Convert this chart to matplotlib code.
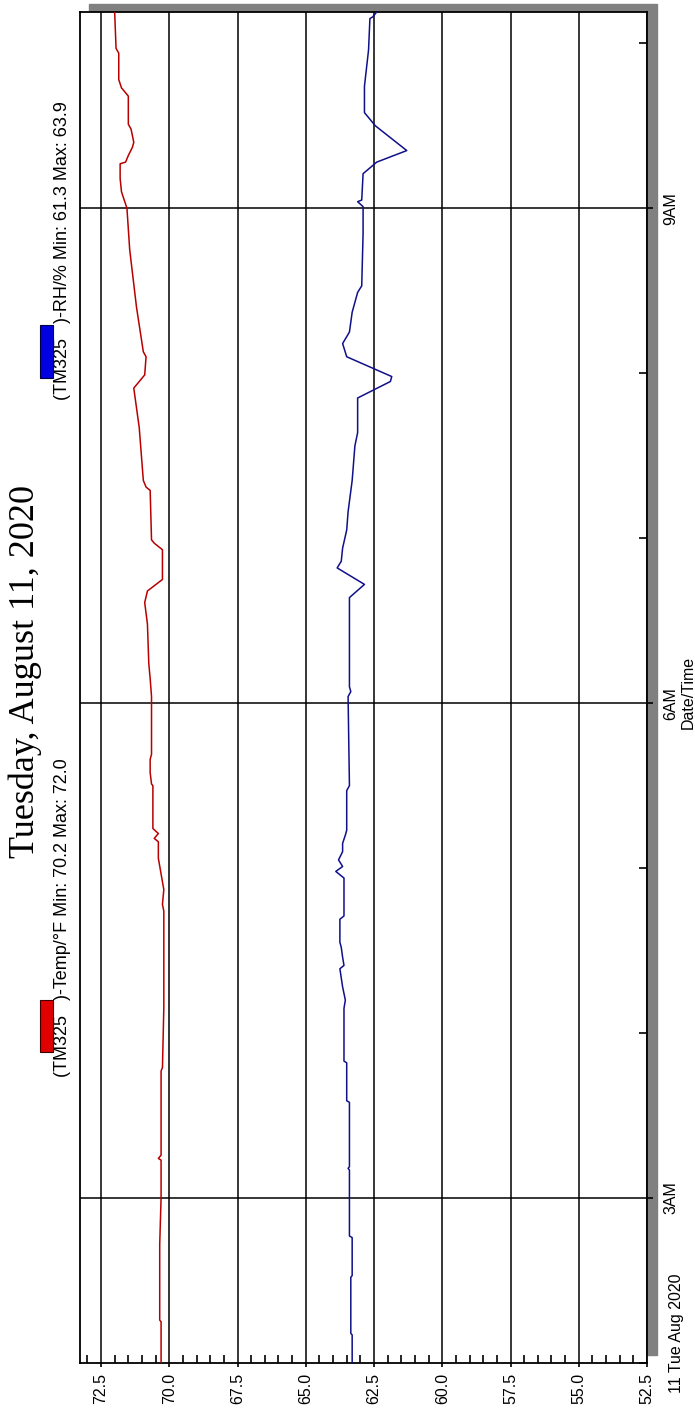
import matplotlib
matplotlib.use("Agg")
import matplotlib.pyplot as plt
from matplotlib.patches import Rectangle
import numpy as np

plt.rcParams['font.family'] = ['Liberation Sans', 'DejaVu Sans']

# time in hours after midnight, Tue 11 Aug 2020
temp_t = [2.00, 2.25, 2.26, 2.36, 2.55, 2.72, 3.00, 3.23, 3.24, 3.26, 3.77, 3.79,
          4.15, 4.41, 4.74, 4.78, 4.87, 5.06, 5.16, 5.18, 5.21, 5.24, 5.50, 5.51,
          5.58, 5.66, 5.69, 6.04, 6.15, 6.24, 6.48, 6.61, 6.68, 6.75, 6.93, 6.97,
          6.99, 7.29, 7.31, 7.35, 7.67, 7.91, 7.99, 8.10, 8.13, 8.40, 8.75, 9.00,
          9.10, 9.18, 9.27, 9.28, 9.32, 9.37, 9.40, 9.48, 9.51, 9.68, 9.70, 9.73,
          9.78, 9.94, 9.97, 10.19]
temp_v = [70.3, 70.3, 70.35, 70.35, 70.35, 70.35, 70.3, 70.3, 70.4, 70.3, 70.3, 70.25,
          70.2, 70.2, 70.2, 70.25, 70.2, 70.4, 70.4, 70.55, 70.4, 70.6, 70.6, 70.65,
          70.7, 70.7, 70.65, 70.65, 70.7, 70.75, 70.8, 70.9, 70.8, 70.25, 70.25, 70.55,
          70.65, 70.7, 70.85, 70.95, 71.1, 71.3, 70.9, 70.85, 70.95, 71.2, 71.45, 71.55,
          71.75, 71.8, 71.8, 71.6, 71.5, 71.35, 71.3, 71.4, 71.5, 71.5, 71.6, 71.75,
          71.85, 71.85, 71.95, 72.0]

rh_t = [2.00, 2.17, 2.18, 2.52, 2.53, 2.76, 2.77, 3.17, 3.18, 3.19, 3.58, 3.59,
        3.82, 3.83, 4.15, 4.20, 4.28, 4.39, 4.41, 4.46, 4.52, 4.55, 4.69, 4.71,
        4.94, 4.98, 5.01, 5.05, 5.10, 5.15, 5.20, 5.23, 5.47, 5.50, 6.04, 6.07,
        6.10, 6.48, 6.64, 6.72, 6.82, 6.86, 6.94, 7.05, 7.16, 7.35, 7.56, 7.64,
        7.85, 7.95, 7.98, 8.10, 8.18, 8.25, 8.37, 8.49, 8.53, 8.85, 9.01, 9.04,
        9.05, 9.21, 9.28, 9.35, 9.50, 9.54, 9.58, 9.74, 9.96, 10.15, 10.16, 10.19]
rh_v = [63.3, 63.3, 63.35, 63.35, 63.3, 63.3, 63.4, 63.4, 63.45, 63.4, 63.4, 63.5,
        63.5, 63.6, 63.6, 63.55, 63.65, 63.75, 63.6, 63.65, 63.7, 63.75, 63.75, 63.6,
        63.6, 63.9, 63.65, 63.8, 63.65, 63.65, 63.55, 63.5, 63.5, 63.4, 63.45, 63.35,
        63.4, 63.4, 63.4, 62.85, 63.85, 63.7, 63.65, 63.5, 63.45, 63.3, 63.2, 63.1,
        63.1, 61.9, 61.85, 63.5, 63.65, 63.4, 63.3, 63.1, 62.95, 62.9, 62.9, 63.1,
        62.95, 62.9, 62.4, 61.3, 62.45, 62.65, 62.85, 62.85, 62.7, 62.65, 62.55, 62.4]

value_ticks = [72.5, 70.0, 67.5, 65.0, 62.5, 60.0, 57.5, 55.0, 52.5]
hour_ticks = [3, 6, 9]
hour_labels = ['3AM', '6AM', '9AM']

W, H = 695, 1411
fig = plt.figure(figsize=(W / 100, H / 100), dpi=100)

def fx(px):
    return px / W

def fy(py):
    return 1 - py / H

# grey drop shadow behind the plot box
fig.patches.append(Rectangle((fx(89), fy(1355)), fx(657) - fx(89), fy(4) - fy(1355),
                             transform=fig.transFigure, color='#808080', zorder=-1))

ax = fig.add_axes([fx(80), fy(1363), fx(647) - fx(80), fy(12) - fy(1363)])
ax.set_facecolor('white')

ax.plot(temp_v, temp_t, color='#b80000', lw=1.1, zorder=3)
ax.plot(rh_v, rh_t, color='#10108a', lw=1.1, zorder=3)

ax.set_xlim(73.27, 52.5)
ax.set_ylim(2.0, 10.19)

ax.set_xticks(value_ticks)
ax.set_xticklabels(['%.1f' % v for v in value_ticks], rotation=90, fontsize=11.5)
ax.set_xticks(np.arange(52.5, 73.1, 0.5), minor=True)
ax.tick_params(axis='x', which='major', direction='out', length=3, width=1.2, pad=4)
ax.tick_params(axis='x', which='minor', direction='in', length=6, width=1.2)

ax.yaxis.tick_right()
ax.set_yticks(hour_ticks)
ax.set_yticklabels(hour_labels, rotation=90, va='center', fontsize=11.5)
ax.set_yticks(range(2, 11), minor=True)
ax.tick_params(axis='y', which='major', direction='out', length=4, width=1.2, pad=8)
ax.tick_params(axis='y', which='minor', direction='in', length=6, width=1.2)

ax.grid(True, which='major', color='black', lw=1.1)
for s in ax.spines.values():
    s.set_linewidth(1.3)

fig.text(fx(25), fy(672), 'Tuesday, August 11, 2020', rotation=90, ha='center', va='center',
         family='Liberation Serif', fontsize=26)

fig.patches.append(Rectangle((fx(40), fy(1052)), fx(13), 52 / H, transform=fig.transFigure,
                             facecolor='#e00000', edgecolor='#400000', lw=0.8))
fig.text(fx(63), fy(1077), '(TM325   )-Temp/\u00b0F Min: 70.2 Max: 72.0', rotation=90,
         ha='center', va='bottom', fontsize=13)

fig.patches.append(Rectangle((fx(40), fy(378)), fx(13), 53 / H, transform=fig.transFigure,
                             facecolor='#0000e0', edgecolor='#000040', lw=0.8))
fig.text(fx(63), fy(400), '(TM325   )-RH/% Min: 61.3 Max: 63.9', rotation=90,
         ha='center', va='bottom', fontsize=13)

fig.text(fx(677), fy(1333), '11 Tue Aug 2020', rotation=90, ha='center', va='center', fontsize=11.5)
fig.text(fx(688), fy(692), 'Date/Time', rotation=90, ha='center', va='center', fontsize=11.5)

fig.savefig('out.png', dpi=100)
